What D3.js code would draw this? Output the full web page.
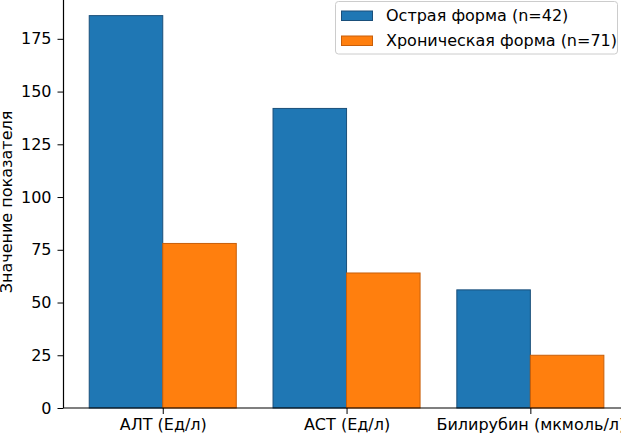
<!DOCTYPE html>
<html><head><meta charset="utf-8">
<script src="https://cdn.jsdelivr.net/npm/d3@7"></script>
<style>
body{margin:0;background:#fff;}
svg{display:block;font-family:"DejaVu Sans",sans-serif;}
</style></head>
<body>
<svg id="chart" width="621" height="437"></svg>
<script>
const categories = ["АЛТ (Ед/л)", "АСТ (Ед/л)", "Билирубин (мкмоль/л)"];
const seriesNames = ["Острая форма (n=42)", "Хроническая форма (n=71)"];
const acuteValues = [186, 142, 56];
const chronicValues = [78, 64, 25];
const yTicks = [0, 25, 50, 75, 100, 125, 150, 175];
const colors = ["#1f77b4", "#ff7f0e"];
const edgeColors = ["#1a4f7a", "#c85f0a"];

const svg = d3.select("#chart");
const fs = 16;
const x = d3.scaleLinear().domain([-0.54, 2.54]).range([63.5, 629.6]);
const y = d3.scaleLinear().domain([0, 195.3]).range([408, -4]);
const bw = 0.4;

const series = [acuteValues, chronicValues];
series.forEach((vals, si) => {
  svg.append("g").selectAll("rect").data(vals).join("rect")
    .attr("x", (d, i) => x(i - bw + si * bw))
    .attr("y", d => y(d))
    .attr("width", x(bw) - x(0))
    .attr("height", d => y(0) - y(d))
    .attr("fill", colors[si])
    .attr("stroke", edgeColors[si])
    .attr("stroke-width", 1);
});

// y axis
const yAxis = d3.axisLeft(y).tickValues(yTicks).tickSize(6).tickPadding(6).tickFormat(d3.format("d"));
const gy = svg.append("g").attr("transform", "translate(63.5,0)").call(yAxis);
gy.select(".domain").attr("d", "M0," + y(195.3) + "V" + y(0)).attr("stroke", "#000").attr("stroke-width", 1.2);
gy.selectAll("text").attr("font-size", fs).attr("font-family", "DejaVu Sans").attr("fill", "#000");
gy.selectAll("line").attr("stroke", "#000");

// x axis
const xAxis = d3.axisBottom(x).tickValues([0, 1, 2]).tickSize(6).tickPadding(5).tickFormat((d) => categories[d]);
const gx = svg.append("g").attr("transform", "translate(0,408)").call(xAxis);
gx.select(".domain").attr("d", "M63.5,0H629.6").attr("stroke", "#000").attr("stroke-width", 1.2);
gx.selectAll("text").attr("font-size", fs).attr("font-family", "DejaVu Sans").attr("fill", "#000");
gx.selectAll("line").attr("stroke", "#000");

// y label
svg.append("text")
  .attr("transform", "translate(12,202) rotate(-90)")
  .attr("text-anchor", "middle")
  .attr("font-size", fs)
  .text("Значение показателя");

// legend
const lg = svg.append("g");
lg.append("rect").attr("x", 335.5).attr("y", 1.5).attr("width", 282).attr("height", 52.5)
  .attr("rx", 3).attr("fill", "#fff").attr("fill-opacity", 0.8).attr("stroke", "#cccccc");
seriesNames.forEach((n, i) => {
  lg.append("rect").attr("x", 341.5).attr("y", 11 + i * 25).attr("width", 31).attr("height", 9.5)
    .attr("fill", colors[i]).attr("stroke", edgeColors[i]);
  lg.append("text").attr("x", 386).attr("y", 21 + i * 25).attr("font-size", fs).text(n);
});
</script>
</body></html>
